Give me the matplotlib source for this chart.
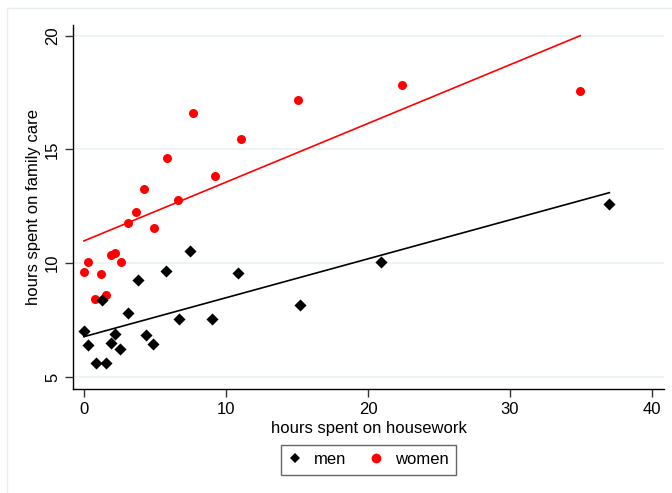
#!/usr/bin/env python3
"""Scatter of family care vs housework hours with linear fits, men and women."""

import matplotlib

matplotlib.use("Agg")

import matplotlib.pyplot as plt
from matplotlib.lines import Line2D
from matplotlib.patches import Rectangle

plt.rcParams["font.family"] = ["Liberation Sans", "DejaVu Sans"]

MEN_HOUSEWORK = [0.0, 0.28, 0.82, 1.29, 1.55, 1.90, 2.18, 2.56, 3.12, 3.82,
                 4.35, 4.86, 5.80, 6.69, 7.49, 9.04, 10.87, 15.23, 20.9, 37.0]
MEN_FAMILY = [7.02, 6.39, 5.63, 8.38, 5.63, 6.48, 6.89, 6.22, 7.81, 9.27,
              6.84, 6.45, 9.66, 7.53, 10.55, 7.55, 9.58, 8.18, 10.05, 12.62]

WOMEN_HOUSEWORK = [0.0, 0.26, 0.80, 1.22, 1.53, 1.90, 2.18, 2.61, 3.08, 3.68,
                   4.25, 4.93, 5.85, 6.64, 7.68, 9.23, 11.08, 15.07, 22.39, 34.95]
WOMEN_FAMILY = [9.61, 10.04, 8.43, 9.51, 8.60, 10.37, 10.46, 10.05, 11.78, 12.26,
                13.26, 11.55, 14.64, 12.78, 16.60, 13.82, 15.46, 17.17, 17.85, 17.58]

# fitted lines as drawn in the original (ends of each lfit segment)
MEN_FIT_X = [0.0, 37.0]
MEN_FIT_Y = [6.77, 13.10]
WOMEN_FIT_X = [0.0, 34.95]
WOMEN_FIT_Y = [10.98, 20.0]

X_TICKS = [0, 10, 20, 30, 40]
Y_TICKS = [5, 10, 15, 20]


fig = plt.figure(figsize=(6.72, 4.93), dpi=100)
fig.patches.append(Rectangle((7 / 672, -0.1), 1.2, 1 - 8 / 493 + 0.1,
                             transform=fig.transFigure, fill=False,
                             edgecolor="#E6EEF2", linewidth=1.0))

ax = fig.add_axes([73.3 / 672, 1 - 389 / 493, (664 - 73.3) / 672, (389 - 25) / 493])
ax.set_xlim(-0.75, 40.85)
ax.set_ylim(4.47, 20.47)

for side in ("top", "right"):
    ax.spines[side].set_visible(False)
for side in ("left", "bottom"):
    ax.spines[side].set_linewidth(1.0)
    ax.spines[side].set_color("black")

ax.set_yticks(Y_TICKS)
ax.set_xticks(X_TICKS)
ax.set_yticklabels([str(t) for t in Y_TICKS], rotation=90, va="center")
ax.tick_params(axis="both", labelsize=12, length=6, width=1.0, color="#333333")
ax.yaxis.grid(True, color="#EAF2F3", linewidth=1.2, zorder=0)
ax.set_axisbelow(True)

ax.scatter(WOMEN_HOUSEWORK, WOMEN_FAMILY, s=42, marker="o", color="#FF0000",
           linewidths=0, zorder=3)
ax.scatter(MEN_HOUSEWORK, MEN_FAMILY, s=38, marker="D", color="black",
           linewidths=0, zorder=3)

ax.plot(MEN_FIT_X, MEN_FIT_Y, color="black", linewidth=1.2, zorder=2)
ax.plot(WOMEN_FIT_X, WOMEN_FIT_Y, color="#FF0000", linewidth=1.2, zorder=2)

ax.set_xlabel("hours spent on housework", fontsize=12, labelpad=3)
ax.set_ylabel("hours spent on family care", fontsize=12, labelpad=3)

handles = [
    Line2D([], [], linestyle="none", marker="D", color="black", markersize=5.5,
           markeredgewidth=0, label="men"),
    Line2D([], [], linestyle="none", marker="o", color="#FF0000", markersize=7,
           markeredgewidth=0, label="women"),
]
leg = fig.legend(handles=handles, loc="center", bbox_to_anchor=(368.5 / 672, 1 - 459.5 / 493),
                 ncol=2, fontsize=12, frameon=True, fancybox=False,
                 handlelength=0.8, handletextpad=0.74, columnspacing=1.4,
                 borderpad=0.45, borderaxespad=0)
leg.get_frame().set_edgecolor("#404040")
leg.get_frame().set_linewidth(1.0)

fig.savefig("out.png", dpi=100)
